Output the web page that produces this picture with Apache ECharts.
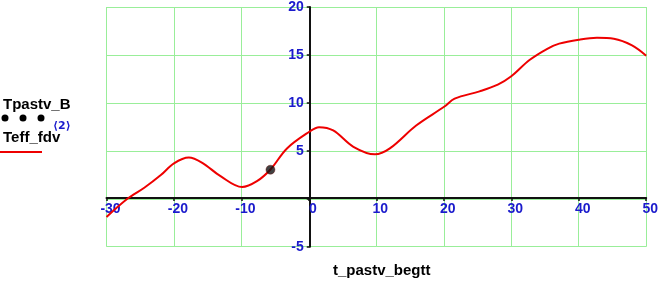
<!DOCTYPE html>
<html><head><meta charset="utf-8">
<script src="https://cdn.jsdelivr.net/npm/echarts@6/dist/echarts.min.js"></script>
<style>html,body{margin:0;padding:0;background:#fff}#c{width:661px;height:282px}</style>
</head><body><div id="c"></div>
<script>
// Teff_fdv curve (x, y)
const curveX = [-30, -26.9, -24.4, -21.9, -20, -17.8, -15.8, -13.1, -9.9, -7.7, -5.7, -3.25, 0, 1.5, 3.6, 6.6, 9.8, 12.0, 15.9, 20.1, 21.6, 25.3, 28.0, 30.0, 32.7, 35.4, 37.1, 40.0, 42.7, 45.2, 47.9, 50];
const curveY = [-1.9, 0, 1.15, 2.5, 3.7, 4.3, 3.75, 2.35, 1.22, 1.83, 3.05, 5.25, 6.96, 7.47, 7.13, 5.42, 4.63, 5.25, 7.64, 9.62, 10.44, 11.2, 11.9, 12.77, 14.47, 15.67, 16.18, 16.59, 16.79, 16.69, 16.0, 14.92];
// Tpastv_B point
const pointX = [-5.7];
const pointY = [3.03];
const xTicks = [-30, -20, -10, 0, 10, 20, 30, 40, 50];
const yTicks = [-5, 0, 5, 10, 15, 20];

const W = 661, H = 282;
const gridL = 106.5, gridR = 12.5, gridT = 2.7, gridB = 35.3;
const plotW = W - gridL - gridR, plotH = H - gridT - gridB;
const xMin = xTicks[0], xMax = xTicks[xTicks.length - 1];
const yMin = yTicks[0], yMax = yTicks[yTicks.length - 1];
// move axes so that they cross at zero
const xAxisOffset = -plotH * (0 - yMin) / (yMax - yMin);
const yAxisOffset = -plotW * (0 - xMin) / (xMax - xMin);

const chart = echarts.init(document.getElementById('c'));
const lblFont = {color: '#1a1acc', fontWeight: 'bold', fontSize: 14, fontFamily: 'Liberation Sans, Arial, sans-serif'};
chart.setOption({
  animation: false,
  grid: {left: gridL, right: gridR, top: gridT, bottom: gridB, containLabel: false},
  xAxis: {
    type: 'value', min: xMin, max: xMax, interval: 10, offset: xAxisOffset,
    axisLine: {onZero: false, lineStyle: {color: '#111', width: 2}},
    axisTick: {show: true, length: 3, inside: false, lineStyle: {color: '#111', width: 1.5}},
    axisLabel: Object.assign({margin: 4, padding: [0, 0, 0, 8], formatter: v => String(v)}, lblFont),
    splitLine: {show: true, lineStyle: {color: '#99ee99', width: 1}}
  },
  yAxis: {
    type: 'value', min: yMin, max: yMax, interval: 5, offset: yAxisOffset,
    axisLine: {onZero: false, lineStyle: {color: '#111', width: 2}},
    axisTick: {show: true, length: 3, lineStyle: {color: '#111', width: 1.5}},
    axisLabel: Object.assign({margin: 6, formatter: v => (v === 0 ? '' : String(v))}, lblFont),
    splitLine: {show: true, lineStyle: {color: '#99ee99', width: 1}}
  },
  series: [
    {name: 'Teff_fdv', type: 'line', data: curveX.map((x, i) => [x, curveY[i]]), smooth: 0.35, showSymbol: false,
     lineStyle: {color: '#ee0000', width: 2}, z: 3},
    {name: 'Tpastv_B', type: 'scatter', data: pointX.map((x, i) => [x, pointY[i]]), symbolSize: 9,
     itemStyle: {color: '#111', borderColor: '#600', borderWidth: 0.5}, z: 4}
  ],
  graphic: [
    {type: 'text', left: 3, top: 97, style: {text: 'Tpastv_B', font: 'bold 15px Liberation Sans, Arial, sans-serif', fill: '#000'}},
    {type: 'circle', shape: {cx: 5, cy: 118, r: 3.5}, style: {fill: '#000'}},
    {type: 'circle', shape: {cx: 23, cy: 118, r: 3.5}, style: {fill: '#000'}},
    {type: 'circle', shape: {cx: 41, cy: 118, r: 3.5}, style: {fill: '#000'}},
    {type: 'text', left: 3, top: 130, style: {text: 'Teff_fdv', font: 'bold 15px Liberation Sans, Arial, sans-serif', fill: '#000'}},
    {type: 'text', left: 53, top: 121, style: {text: '⟨2⟩', font: 'bold 11px DejaVu Sans, sans-serif', fill: '#1a1acc'}},
    {type: 'line', shape: {x1: 0, y1: 152, x2: 42, y2: 152}, style: {stroke: '#ee0000', lineWidth: 2}},
    {type: 'text', left: 333, top: 263, style: {text: 't_pastv_begtt', font: 'bold 15px Liberation Sans, Arial, sans-serif', fill: '#000'}}
  ]
});
</script></body></html>
